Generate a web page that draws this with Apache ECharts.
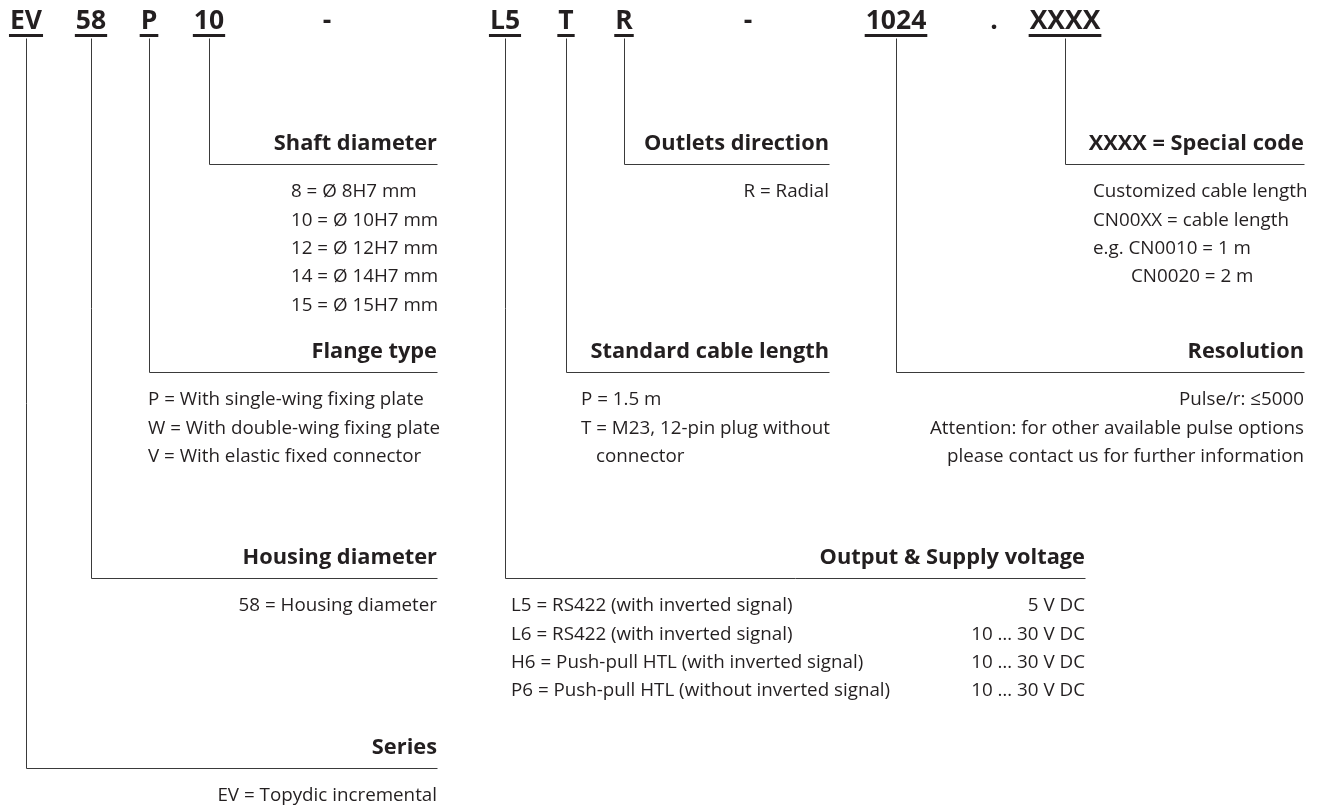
<!DOCTYPE html>
<html>
<head>
<meta charset="utf-8">
<title>EV58 ordering code</title>
<script src="https://cdn.jsdelivr.net/npm/echarts@6/dist/echarts.min.js"></script>
<style>
    html, body { margin: 0; padding: 0; background: #fff; }
    #main { width: 1319px; height: 810px; }
</style>
</head>
<body>
<div id="main"></div>
<script>
'use strict';

// ordering code, left to right
var codeParts = ['EV', '58', 'P', '10', '-', 'L5', 'T', 'R', '-', '1024', '.', 'XXXX'];
var codeX = [26, 91, 149, 209, 327, 505, 566, 624, 748, 896, 994, 1065];

// one field for every underlined part of the code
var fieldCode = [0, 1, 2, 3, 5, 6, 7, 9, 11];
var fieldTitles = ['Series', 'Housing diameter', 'Flange type', 'Shaft diameter',
    'Output & Supply voltage', 'Standard cable length', 'Outlets direction',
    'Resolution', 'XXXX = Special code'];
var fieldLevel = [768, 578, 372, 164, 578, 372, 164, 372, 164];
var fieldRight = [437, 437, 437, 437, 1085, 829, 829, 1304, 1304];
var fieldNotes = [
    ['EV = Topydic incremental'],
    ['58 = Housing diameter'],
    ['P = With single-wing fixing plate', 'W = With double-wing fixing plate', 'V = With elastic fixed connector'],
    ['8 = Ø 8H7 mm', '10 = Ø 10H7 mm', '12 = Ø 12H7 mm', '14 = Ø 14H7 mm', '15 = Ø 15H7 mm'],
    ['L5 = RS422 (with inverted signal)', 'L6 = RS422 (with inverted signal)',
        'H6 = Push-pull HTL (with inverted signal)', 'P6 = Push-pull HTL (without inverted signal)'],
    ['P = 1.5 m', 'T = M23, 12-pin plug without', 'connector'],
    ['R = Radial'],
    ['Pulse/r: ≤5000', 'Attention: for other available pulse options', 'please contact us for further information'],
    ['Customized cable length', 'CN00XX = cable length', 'e.g. CN0010 = 1 m', 'CN0020 = 2 m']
];
// left edge of the notes, null = right aligned to the line end
var fieldNoteX = [null, null, 148, 291, 511, 581, null, null, 1093];
var noteIndent = {'connector': 15, 'CN0020 = 2 m': 38};
var supplyVoltage = ['5 V DC', '10 … 30 V DC', '10 … 30 V DC', '10 … 30 V DC'];

var FONT = '"Open Sans"';
var INK = '#231f20';
var LINE_TOP = 38;
var CODE_Y = 21;
var NOTE_GAP = 28.3;

var measureCtx = document.createElement('canvas').getContext('2d');
function textWidth(str, font) {
    measureCtx.font = font;
    return measureCtx.measureText(str).width;
}

// flatten all texts below the lines
var notes = [];
fieldNotes.forEach(function (lines, i) {
    lines.forEach(function (t, k) {
        var y = fieldLevel[i] + 28 + k * NOTE_GAP;
        if (fieldNoteX[i] === null) {
            notes.push({x: fieldRight[i], y: y, text: t, align: 'right'});
        } else {
            notes.push({x: fieldNoteX[i] + (noteIndent[t] || 0), y: y, text: t, align: 'left'});
        }
    });
});
supplyVoltage.forEach(function (t, k) {
    notes.push({x: fieldRight[4], y: fieldLevel[4] + 28 + k * NOTE_GAP, text: t, align: 'right'});
});

var chart = echarts.init(document.getElementById('main'), null, {renderer: 'canvas'});

function crisp(p) {
    return [Math.round(p[0]) + 0.5, Math.round(p[1]) + 0.5];
}

var option = {
    animation: false,
    backgroundColor: '#fff',
    grid: {left: 0, right: 0, top: 0, bottom: 0},
    xAxis: {type: 'value', min: 0, max: 1319, show: false},
    yAxis: {type: 'value', min: 0, max: 810, inverse: true, show: false},
    series: [
        {
            // elbow connectors
            type: 'custom',
            silent: true,
            data: fieldCode.map(function (c, i) {
                return [codeX[c], fieldLevel[i], fieldRight[i]];
            }),
            renderItem: function (params, api) {
                var top = crisp(api.coord([api.value(0), LINE_TOP]));
                var corner = crisp(api.coord([api.value(0), api.value(1)]));
                var end = crisp(api.coord([api.value(2), api.value(1)]));
                return {
                    type: 'polyline',
                    shape: {points: [top, corner, end]},
                    style: {stroke: '#3a3a3a', lineWidth: 1, fill: null}
                };
            }
        },
        {
            // code parts with underline
            type: 'custom',
            silent: true,
            data: codeParts.map(function (t, i) {
                return [codeX[i], CODE_Y];
            }),
            renderItem: function (params, api) {
                var t = codeParts[params.dataIndex];
                var p = api.coord([api.value(0), api.value(1)]);
                var font = 'bold 26.5px ' + FONT;
                var children = [{
                    type: 'text',
                    x: p[0], y: p[1],
                    style: {text: t, font: font, fill: INK, align: 'center', verticalAlign: 'middle'}
                }];
                if (t !== '-' && t !== '.') {
                    var w = textWidth(t, font);
                    children.push({
                        type: 'rect',
                        shape: {x: p[0] - w / 2 - 1, y: p[1] + 13, width: w + 2, height: 3},
                        style: {fill: INK}
                    });
                }
                return {type: 'group', children: children};
            }
        },
        {
            // field titles above the lines
            type: 'custom',
            silent: true,
            data: fieldTitles.map(function (t, i) {
                return [fieldRight[i], fieldLevel[i] - 20.5];
            }),
            renderItem: function (params, api) {
                var p = api.coord([api.value(0), api.value(1)]);
                return {
                    type: 'text',
                    x: p[0], y: p[1],
                    style: {
                        text: fieldTitles[params.dataIndex], font: 'bold 21.8px ' + FONT,
                        fill: INK, align: 'right', verticalAlign: 'middle'
                    }
                };
            }
        },
        {
            // option texts below the lines
            type: 'custom',
            silent: true,
            data: notes.map(function (n) {
                return [n.x, n.y];
            }),
            renderItem: function (params, api) {
                var n = notes[params.dataIndex];
                var p = api.coord([api.value(0), api.value(1)]);
                return {
                    type: 'text',
                    x: p[0], y: p[1],
                    style: {
                        text: n.text, font: '18.8px ' + FONT,
                        fill: INK, align: n.align, verticalAlign: 'middle'
                    }
                };
            }
        }
    ]
};

chart.setOption(option);
</script>
</body>
</html>
